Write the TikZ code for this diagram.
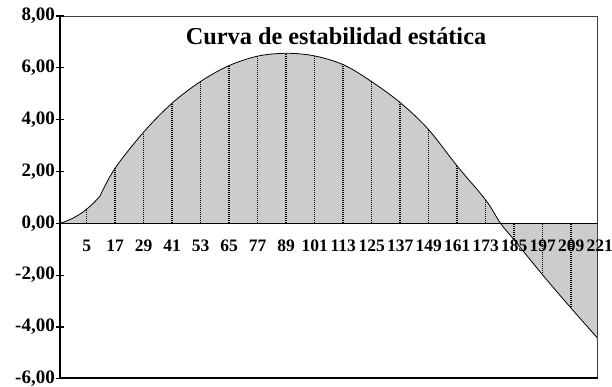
\documentclass[tikz,border=0pt]{standalone}
\usepackage{fontspec}
\setmainfont{Liberation Serif}
\begin{document}
\begin{tikzpicture}[x=1pt,y=-1pt,
  ylab/.style={anchor=east,font=\fontsize{19}{21}\selectfont\bfseries,inner sep=0pt},
  xlab/.style={anchor=base,font=\fontsize{17.5}{19}\selectfont\bfseries,inner sep=0pt},
  ttl/.style={anchor=base,font=\fontsize{24.3}{27}\selectfont\bfseries,inner sep=0pt},
  frameline/.style={draw=black!75,line width=0.9pt},
  axisline/.style={draw=black,line width=1.6pt},
  curveline/.style={draw=black,line width=0.8pt},
  areafill/.style={fill=black!20},
  dotline/.style={draw=black,line width=1.3pt,dash pattern=on 1pt off 1pt}]
\useasboundingbox (0,0) rectangle (612,387);
\def\curvepath{(60,223.3) .. controls (75,219) and (88,210) .. (100,196)
  -- plot[smooth,tension=0.55] coordinates {(100,196) (115,168.3) (144,131.7) (172.5,102.8) (201,81.2) (229.3,65.5) (258.3,56) (287.3,53.3) (315,56) (344,65) (371.7,81.7) (400.7,103) (428.3,129.3) (457.7,166.7) (485.7,200) (500.5,223.3) (514.2,240) (542.7,275) (571.2,308.3) (597.7,338.3)}}
% fill
\path[areafill] \curvepath -- (597.7,223.3) -- cycle;
% dotted verticals
\begin{scope}
\clip \curvepath -- (597.7,223.3) -- cycle;
\foreach \xx in {86.7,115,143.6,172.1,200.6,229.1,257.6,286.1,314.6,343.1,371.6,400.1,428.6,457.1,485.6,514.1,542.6,571.1}{
  \draw[dotline] (\xx,0) -- (\xx,400);
}
\end{scope}
\draw[curveline] \curvepath;
% frame
\draw[frameline] (60,16) -- (597.7,16) -- (597.7,378);
\draw[axisline] (60,378) -- (597.7,378);
\draw[axisline] (60,15.5) -- (60,378.5);
\draw[axisline] (60,223.3) -- (597.7,223.3);
% y ticks and labels
\foreach \v/\t [count=\i] in {8/{8,00},6/{6,00},4/{4,00},2/{2,00},0/{0,00},-2/{-2,00},-4/{-4,00},-6/{-6,00}}{
  \pgfmathsetmacro\yy{223.3-\v*25.9125}
  \draw[draw=black,line width=1.2pt] (55.5,\yy) -- (64,\yy);
  \node[ylab] (yl\i) at (55,\yy) {\t};
}
% x labels
\foreach \l [count=\i] in {5,17,29,41,53,65,77,89,101,113,125,137,149,161,173,185,197,209,221}{
  \pgfmathsetmacro\xx{86.7+(\l-5)*2.375}
  \node[xlab] (xl\i) at (\xx,251.7) {\l};
}
\node[ttl] (title) at (336,45) {Curva de estabilidad estática};
\end{tikzpicture}
\end{document}
